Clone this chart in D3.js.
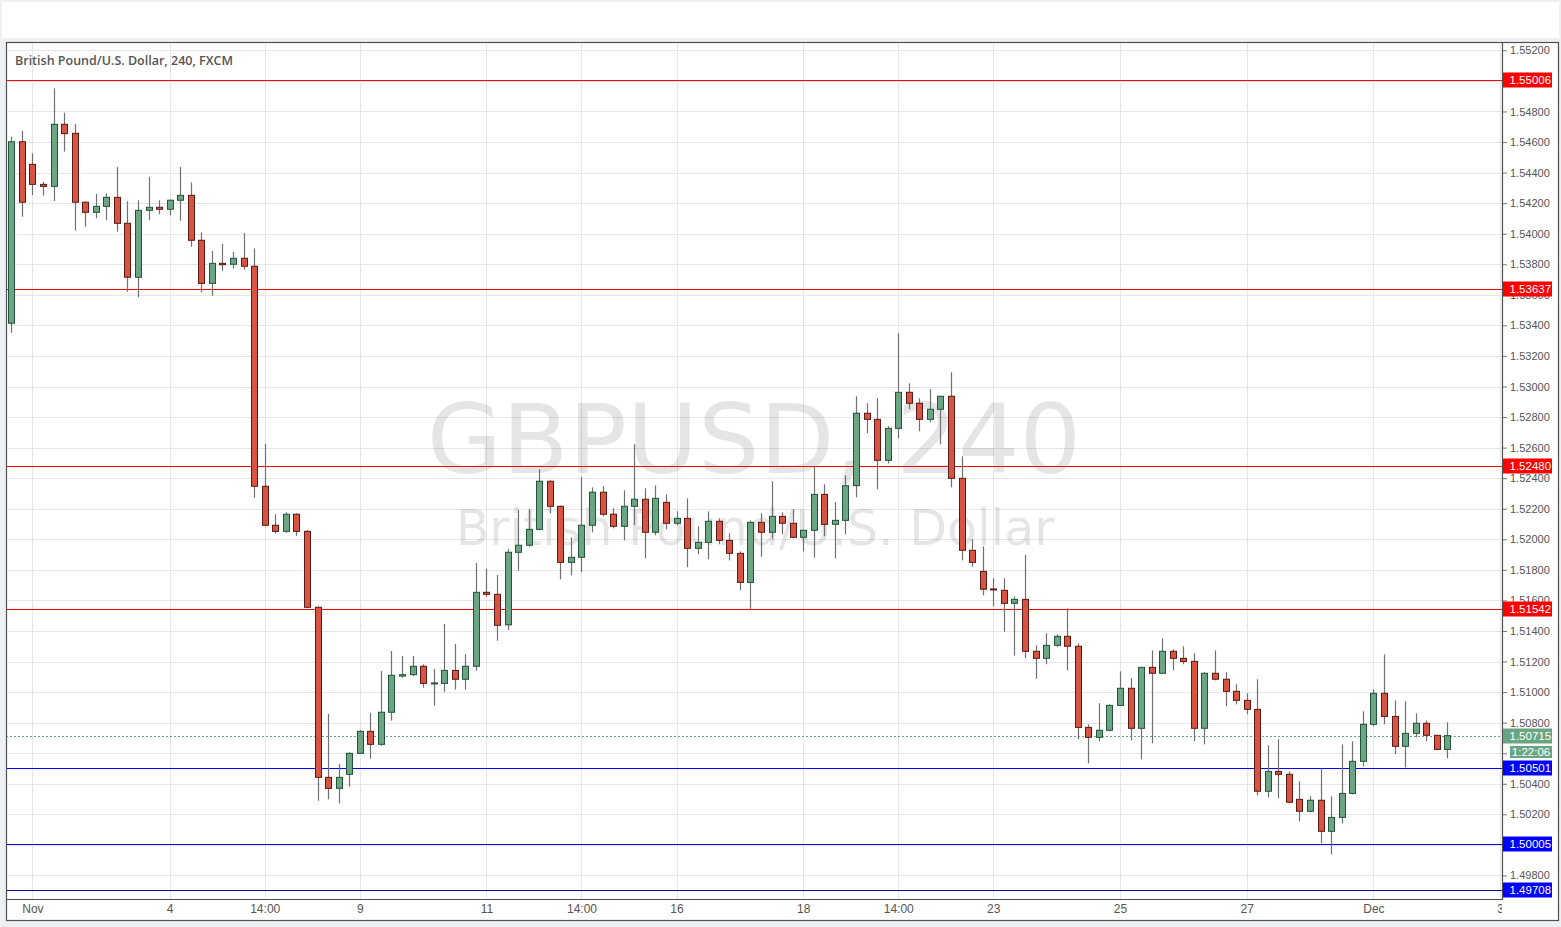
<!DOCTYPE html>
<html><head><meta charset="utf-8">
<script src="https://cdn.jsdelivr.net/npm/d3@7"></script>
<style>
html,body{margin:0;padding:0;background:#eef1f4;}
svg{display:block;}
</style></head><body>
<svg id="c" width="1561" height="927"></svg>
<script>
// ---- data (GBPUSD 240 candles) ----
const opens=[1.53414,1.54602,1.54454,1.54323,1.54310,1.54716,1.54657,1.54206,1.54140,1.54179,
1.54238,1.54068,1.53715,1.54153,1.54173,1.54160,1.54219,1.54251,1.53957,1.53675,
1.53806,1.53800,1.53839,1.53787,1.52347,1.52092,1.52052,1.52164,1.52052,1.51555,
1.50442,1.50370,1.50462,1.50599,1.50743,1.50658,1.50868,1.51105,1.51114,1.51169,
1.51055,1.51057,1.51142,1.51084,1.51169,1.51653,1.51640,1.51440,1.51915,1.51961,
1.52065,1.52380,1.52216,1.51849,1.51882,1.52092,1.52308,1.52164,1.52085,1.52216,
1.52262,1.52046,1.52242,1.52105,1.52137,1.51941,1.51980,1.52118,1.51993,1.51908,
1.51718,1.52111,1.52046,1.52150,1.52105,1.52013,1.52059,1.52294,1.52098,1.52124,
1.52351,1.52825,1.52785,1.52517,1.52726,1.52962,1.52890,1.52785,1.52851,1.52936,
1.52399,1.51928,1.51790,1.51675,1.51666,1.51581,1.51607,1.51267,1.51221,1.51306,
1.51365,1.51300,1.50769,1.50704,1.50750,1.50913,1.51025,1.50763,1.51162,1.51123,
1.51267,1.51221,1.51201,1.50763,1.51123,1.51084,1.51005,1.50946,1.50887,1.50351,
1.50481,1.50462,1.50298,1.50220,1.50292,1.50089,1.50180,1.50337,1.50547,1.50789,
1.50992,1.50841,1.50645,1.50730,1.50796,1.50717,1.50625];
const highs=[1.54635,1.54672,1.54526,1.54340,1.54952,1.54792,1.54718,1.54212,1.54260,1.54264,
1.54437,1.54212,1.54219,1.54371,1.54219,1.54225,1.54437,1.54336,1.54009,1.53887,
1.53933,1.53880,1.54005,1.53904,1.52624,1.52164,1.52177,1.52170,1.52061,1.51560,
1.50857,1.50529,1.50606,1.50752,1.50863,1.51138,1.51269,1.51236,1.51236,1.51182,
1.51151,1.51446,1.51315,1.51249,1.51845,1.51806,1.51766,1.51936,1.52192,1.52198,
1.52458,1.52385,1.52220,1.52013,1.52406,1.52340,1.52347,1.52203,1.52321,1.52622,
1.52334,1.52353,1.52294,1.52183,1.52268,1.52085,1.52183,1.52137,1.52039,1.51921,
1.52124,1.52170,1.52380,1.52177,1.52196,1.52062,1.52478,1.52360,1.52242,1.52419,
1.52936,1.52890,1.52923,1.52740,1.53348,1.53021,1.52923,1.52982,1.52940,1.53093,
1.52543,1.52000,1.51954,1.51745,1.51745,1.51627,1.51897,1.51306,1.51385,1.51378,
1.51548,1.51319,1.50789,1.50927,1.50920,1.51136,1.51090,1.51165,1.51273,1.51352,
1.51280,1.51300,1.51254,1.51130,1.51273,1.51130,1.51051,1.50992,1.51084,1.50652,
1.50691,1.50481,1.50416,1.50318,1.50501,1.50318,1.50658,1.50678,1.50874,1.51018,
1.51247,1.50946,1.50940,1.50861,1.50815,1.50720,1.50802];
const lows=[1.53352,1.54111,1.54253,1.54249,1.54214,1.54537,1.54020,1.54046,1.54101,1.54090,
1.54013,1.53620,1.53584,1.54090,1.54127,1.54120,1.54085,1.53915,1.53616,1.53594,
1.53758,1.53771,1.53764,1.52272,1.52085,1.52037,1.52043,1.52023,1.51550,1.50289,
1.50298,1.50272,1.50381,1.50595,1.50564,1.50650,1.50813,1.51094,1.51105,1.51029,
1.50911,1.51002,1.51016,1.51016,1.51140,1.51624,1.51336,1.51406,1.51794,1.51952,
1.52060,1.52170,1.51738,1.51764,1.51784,1.52046,1.52150,1.52072,1.51993,1.52092,
1.51876,1.52026,1.52065,1.52092,1.51817,1.51902,1.51869,1.51967,1.51862,1.51666,
1.51542,1.51886,1.52004,1.52033,1.52010,1.51921,1.51880,1.52020,1.51876,1.52033,
1.52275,1.52694,1.52327,1.52497,1.52661,1.52851,1.52707,1.52766,1.52622,1.52340,
1.51862,1.51821,1.51633,1.51561,1.51395,1.51238,1.51221,1.51087,1.51182,1.51297,
1.51142,1.50691,1.50534,1.50678,1.50743,1.50910,1.50684,1.50560,1.50665,1.51118,
1.51142,1.51182,1.50678,1.50658,1.51077,1.50907,1.50920,1.50855,1.50324,1.50311,
1.50305,1.50275,1.50154,1.50213,1.50010,1.49938,1.50141,1.50330,1.50514,1.50776,
1.50789,1.50593,1.50508,1.50704,1.50678,1.50619,1.50567];
const closes=[1.54602,1.54206,1.54323,1.54310,1.54716,1.54655,1.54206,1.54140,1.54179,1.54238,
1.54068,1.53715,1.54153,1.54173,1.54160,1.54219,1.54251,1.53957,1.53675,1.53806,
1.53797,1.53839,1.53787,1.52347,1.52092,1.52052,1.52164,1.52052,1.51555,1.50442,
1.50370,1.50442,1.50599,1.50743,1.50658,1.50868,1.51110,1.51114,1.51169,1.51057,
1.51060,1.51142,1.51084,1.51169,1.51653,1.51640,1.51437,1.51915,1.51961,1.52065,
1.52380,1.52216,1.51849,1.51882,1.52092,1.52308,1.52164,1.52085,1.52216,1.52262,
1.52046,1.52268,1.52105,1.52137,1.51941,1.51980,1.52118,1.51993,1.51908,1.51718,
1.52111,1.52046,1.52150,1.52105,1.52013,1.52059,1.52294,1.52098,1.52124,1.52351,
1.52825,1.52785,1.52517,1.52726,1.52962,1.52890,1.52785,1.52851,1.52936,1.52399,
1.51928,1.51849,1.51673,1.51671,1.51581,1.51607,1.51267,1.51221,1.51306,1.51365,
1.51300,1.50769,1.50704,1.50750,1.50913,1.51025,1.50763,1.51162,1.51123,1.51267,
1.51221,1.51201,1.50763,1.51123,1.51084,1.51005,1.50946,1.50887,1.50351,1.50481,
1.50462,1.50279,1.50220,1.50292,1.50089,1.50180,1.50337,1.50547,1.50789,1.50992,
1.50841,1.50645,1.50730,1.50796,1.50717,1.50625,1.50715];

const xTickIdx=[2,15,24,33,45,54,63,75,84,93,105,117,129,141];
const xTickLabels=["Nov","4","14:00","9","11","14:00","16","18","14:00","23","25","27","Dec","3"];
const yTickValues=d3.range(749,777).map(k=>+(k*0.002).toFixed(3));
const redLevels=[1.55006,1.53637,1.52480,1.51542];
const blueLevels=[1.50501,1.50005];
const navyLevels=[1.49708];
const lastPrice=1.50715;
const countdown="1:22:06";
const titleText="British Pound/U.S. Dollar, 240, FXCM";
const wmMain="GBPUSD, 240";
const wmSub="British Pound/U.S. Dollar";

// ---- layout ----
const L=6, T=42, R=1502, B=899, OR=1558, OB=920;
const svg=d3.select("#c");
const x=d3.scaleLinear().domain([0,136]).range([11.3,1447.3]);
const y=d3.scaleLinear().domain([1.49708,1.55006]).range([889.5,80]);

svg.append("rect").attr("x",2).attr("y",2).attr("width",1557).attr("height",36).attr("fill","#fff");
svg.append("rect").attr("x",L+0.5).attr("y",T+0.5).attr("width",OR-L).attr("height",OB-T)
  .attr("fill","#fff").attr("stroke","#505050").attr("stroke-width",1.2);

const defs=svg.append("defs");
defs.append("clipPath").attr("id","plot").append("rect").attr("x",L+1).attr("y",T+1).attr("width",R-L-1).attr("height",B-T-1);
defs.append("clipPath").attr("id","xax").append("rect").attr("x",L).attr("y",B).attr("width",R-L).attr("height",OB-B);

const plot=svg.append("g").attr("clip-path","url(#plot)");
// grid
plot.selectAll("line.hg").data(yTickValues).join("line").attr("class","hg")
  .attr("x1",L).attr("x2",R).attr("y1",d=>Math.round(y(d))+0.5).attr("y2",d=>Math.round(y(d))+0.5)
  .attr("stroke","#e6e6e6");
plot.selectAll("line.vg").data(xTickIdx).join("line").attr("class","vg")
  .attr("x1",d=>Math.round(x(d))+0.5).attr("x2",d=>Math.round(x(d))+0.5).attr("y1",T).attr("y2",B)
  .attr("stroke","#e6e6e6");
// watermark
plot.append("text").attr("x",754).attr("y",473).attr("text-anchor","middle")
  .style("font-family","DejaVu Sans").style("font-size","97px").attr("fill","#000").attr("fill-opacity",0.1).text(wmMain);
plot.append("text").attr("x",755).attr("y",545).attr("text-anchor","middle")
  .style("font-family","DejaVu Sans").style("font-size","49px").attr("fill","#000").attr("fill-opacity",0.1).text(wmSub);
// levels
const lvl=(arr,col)=>plot.selectAll(null).data(arr).join("line")
  .attr("x1",L).attr("x2",R).attr("y1",d=>Math.round(y(d))+0.5).attr("y2",d=>Math.round(y(d))+0.5)
  .attr("stroke",col).attr("stroke-width",1.2);
lvl(redLevels,"#ff0000"); lvl(blueLevels,"#0000ff"); lvl(navyLevels,"#10109a");
plot.append("line").attr("x1",L).attr("x2",R).attr("y1",Math.round(y(lastPrice))+0.5).attr("y2",Math.round(y(lastPrice))+0.5)
  .attr("stroke","#6aa583").attr("stroke-dasharray","2,2");

// candles
const idx=d3.range(opens.length);
plot.selectAll("line.wick").data(idx).join("line").attr("class","wick")
  .attr("x1",i=>Math.round(x(i))+0.5).attr("x2",i=>Math.round(x(i))+0.5)
  .attr("y1",i=>y(highs[i])).attr("y2",i=>y(lows[i])).attr("stroke","#707072").attr("stroke-width",1.2);
plot.selectAll("rect.body").data(idx).join("rect").attr("class","body")
  .attr("x",i=>Math.round(x(i))-2.5).attr("width",6)
  .attr("y",i=>y(Math.max(opens[i],closes[i])))
  .attr("height",i=>Math.max(1,Math.abs(y(opens[i])-y(closes[i]))))
  .attr("fill",i=>closes[i]>=opens[i]?"#6ba583":"#d75442")
  .attr("stroke",i=>closes[i]>=opens[i]?"#225437":"#5b1a13").attr("stroke-width",1);

// title
svg.append("text").attr("x",15).attr("y",65).style("font-family","'Open Sans'").style("font-weight",600)
  .style("font-size","12.5px").attr("fill","#555").text(titleText);

// axis separator lines
svg.append("line").attr("x1",R+0.5).attr("x2",R+0.5).attr("y1",T).attr("y2",B+1).attr("stroke","#505050").attr("stroke-width",1.2);
svg.append("line").attr("x1",L).attr("x2",R).attr("y1",B+0.5).attr("y2",B+0.5).attr("stroke","#505050").attr("stroke-width",1.2);

// y axis
const ya=svg.append("g").attr("transform",`translate(${R+1},0)`)
  .call(d3.axisRight(y).tickValues(yTickValues).tickSize(4).tickFormat(d3.format(".5f")));
ya.select(".domain").remove();
ya.selectAll("line").attr("stroke","#777");
ya.selectAll("text").attr("fill","#555").style("font-family","'Liberation Sans',Arial").style("font-size","11px").attr("x",7);

// level label boxes
const boxes=[].concat(redLevels.map(v=>({v,c:"#ff0000"})),blueLevels.map(v=>({v,c:"#0000ff"})),navyLevels.map(v=>({v,c:"#0000ff"})),[{v:lastPrice,c:"#6aa583"}]);
const bg=svg.selectAll("g.box").data(boxes).join("g").attr("class","box").attr("transform",d=>`translate(${R+1},${Math.round(y(d.v))})`);
bg.append("rect").attr("x",0).attr("y",-7.5).attr("width",49).attr("height",15).attr("fill",d=>d.c);
bg.append("text").attr("x",6.5).attr("dy","0.36em").attr("fill","#fff").style("font-family","'Liberation Sans',Arial").style("font-size","11.5px").text(d=>d3.format(".5f")(d.v));
const cd=svg.append("g").attr("transform",`translate(${R+8},${Math.round(y(lastPrice))+10})`);
cd.append("rect").attr("x",0).attr("y",0).attr("width",42).attr("height",12).attr("fill","#6aa583");
cd.append("text").attr("x",21).attr("y",6).attr("dy","0.36em").attr("text-anchor","middle").attr("fill","#fff")
  .style("font-family","'Liberation Sans',Arial").style("font-size","11.5px").text(countdown);

// x axis
const xa=svg.append("g").attr("clip-path","url(#xax)").append("g").attr("transform",`translate(0,${B})`)
  .call(d3.axisBottom(x).tickValues(xTickIdx).tickSize(0).tickFormat((d,i)=>xTickLabels[i]));
xa.select(".domain").remove();
xa.selectAll("text").attr("fill","#555").attr("y",5).style("font-family","'Liberation Sans Narrow','Liberation Sans',Arial").style("font-size","12px");
</script>
</body></html>
